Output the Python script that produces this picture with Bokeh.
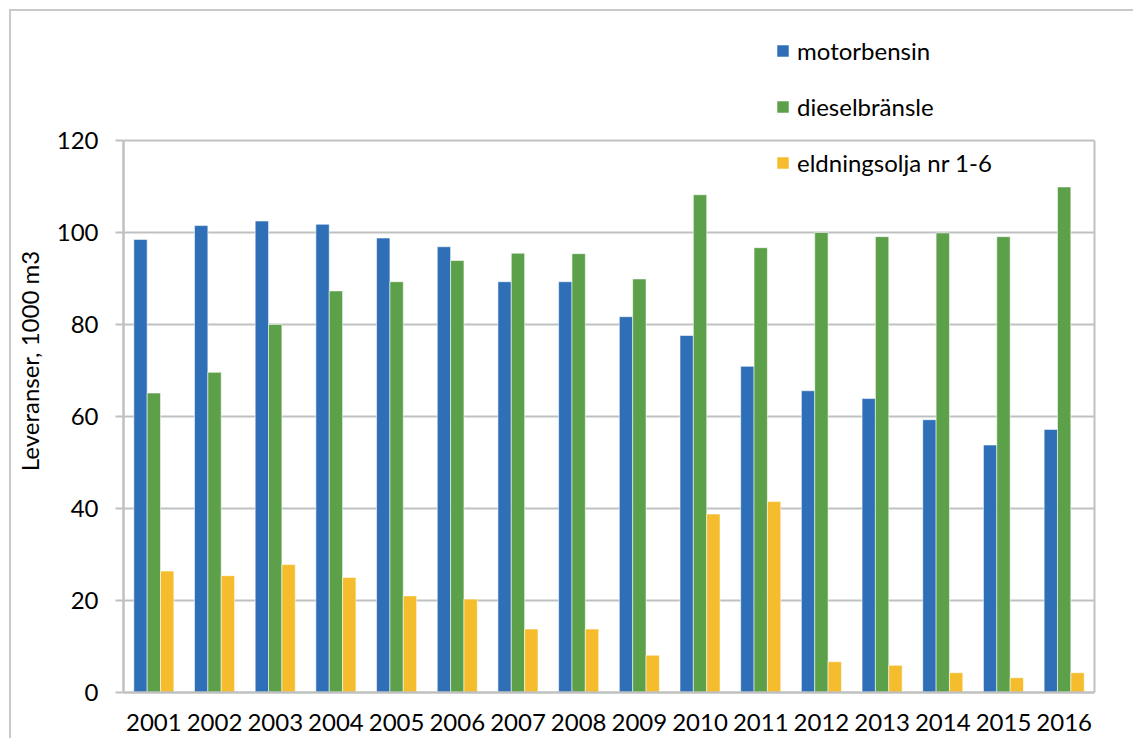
from bokeh.plotting import figure
from bokeh.models import (ColumnDataSource, FactorRange, Range1d, FixedTicker,
                          Legend, LegendItem, LinearAxis)
from bokeh.transform import dodge
from bokeh.embed import file_html
from bokeh.resources import INLINE

years = ["2001", "2002", "2003", "2004", "2005", "2006", "2007", "2008",
         "2009", "2010", "2011", "2012", "2013", "2014", "2015", "2016"]
motorbensin = [98.5, 101.5, 102.5, 101.8, 98.8, 96.9, 89.3, 89.3,
               81.7, 77.6, 70.9, 65.6, 63.9, 59.3, 53.8, 57.2]
dieselbransle = [65.1, 69.6, 80.0, 87.3, 89.3, 93.9, 95.5, 95.4,
                 89.9, 108.2, 96.7, 100.0, 99.1, 99.9, 99.1, 109.9]
eldningsolja = [26.4, 25.4, 27.8, 25.0, 21.0, 20.3, 13.8, 13.8,
                8.1, 38.8, 41.5, 6.7, 5.9, 4.3, 3.2, 4.3]
series_names = ["motorbensin", "dieselbränsle", "eldningsolja nr 1-6"]
y_ticks = [0, 20, 40, 60, 80, 100, 120]

colors = ["#2E6FB7", "#5CA04A", "#F5BD2D"]
FONT = "Lato"
GRAY = "#BFC1C1"

# layout: 552 px for 0..120 ; frame extended upward to hold the legend
FRAME_H = 663
Y_END = 120 * FRAME_H / 552

src = ColumnDataSource(dict(year=years, mb=motorbensin, db=dieselbransle,
                            eo=eldningsolja))

p = figure(width=1124, height=729, output_backend="svg", toolbar_location=None,
           x_range=FactorRange(factors=years, range_padding=0),
           y_range=Range1d(0, Y_END))
p.min_border_left = 111
p.min_border_right = 41
p.min_border_top = 18
p.min_border_bottom = 48
p.styles = {"border-top": "2px solid #C9C9C9", "border-left": "2px solid #C9C9C9",
            "margin-left": "9px", "margin-top": "9px"}

bw = 0.22
renderers = []
for field, off, col in zip(["mb", "db", "eo"], [-bw, 0, bw], colors):
    r = p.vbar(x=dodge("year", off, range=p.x_range), top=field, width=bw,
               source=src, fill_color=col, line_color="white", line_alpha=0.55,
               line_width=1)
    renderers.append(r)

p.outline_line_color = None

p.xgrid.grid_line_color = None
p.ygrid.ticker = FixedTicker(ticks=y_ticks)
p.ygrid.grid_line_color = GRAY
p.ygrid.grid_line_width = 2

p.yaxis.ticker = FixedTicker(ticks=y_ticks)
p.yaxis.bounds = (0, 120)
for ax in (p.xaxis[0], p.yaxis[0]):
    ax.axis_line_color = GRAY
    ax.axis_line_width = 2.5
    ax.major_tick_line_color = GRAY
    ax.major_tick_line_width = 2
    ax.minor_tick_line_color = None
    ax.major_tick_in = 0
    ax.major_label_text_font = FONT
    ax.major_label_text_font_size = "24px"
    ax.major_label_text_color = "#000000"

p.yaxis.major_tick_out = 8
p.yaxis.major_label_standoff = 17
p.yaxis.axis_label = "Leveranser, 1000 m3"
p.yaxis.axis_label_text_font = FONT
p.yaxis.axis_label_text_font_size = "24px"
p.yaxis.axis_label_text_font_style = "normal"
p.yaxis.axis_label_text_color = "#000000"
p.yaxis.axis_label_standoff = 10

p.xaxis.major_tick_out = 0
p.xaxis.major_tick_line_color = None
p.xaxis.major_label_standoff = 21

# right border of the plot area (0..120 only)
right_ax = LinearAxis(bounds=(0, 120), ticker=FixedTicker(ticks=[]),
                      axis_line_color=GRAY, axis_line_width=2,
                      major_tick_line_color=None, minor_tick_line_color=None,
                      major_label_text_font_size="0px")
p.add_layout(right_ax, "right")

legend = Legend(items=[LegendItem(label=n, renderers=[r])
                       for n, r in zip(series_names, renderers)],
                location=(652, 515), orientation="vertical")
legend.glyph_width = 15
legend.glyph_height = 15
legend.label_height = 20
legend.spacing = 27
legend.padding = 0
legend.margin = 0
legend.border_line_color = None
legend.background_fill_alpha = 0
legend.label_standoff = 7
legend.label_text_font = FONT
legend.label_text_font_size = "24px"
legend.label_text_color = "#000000"
p.add_layout(legend)

open("out.html", "w").write(file_html(p, INLINE))
